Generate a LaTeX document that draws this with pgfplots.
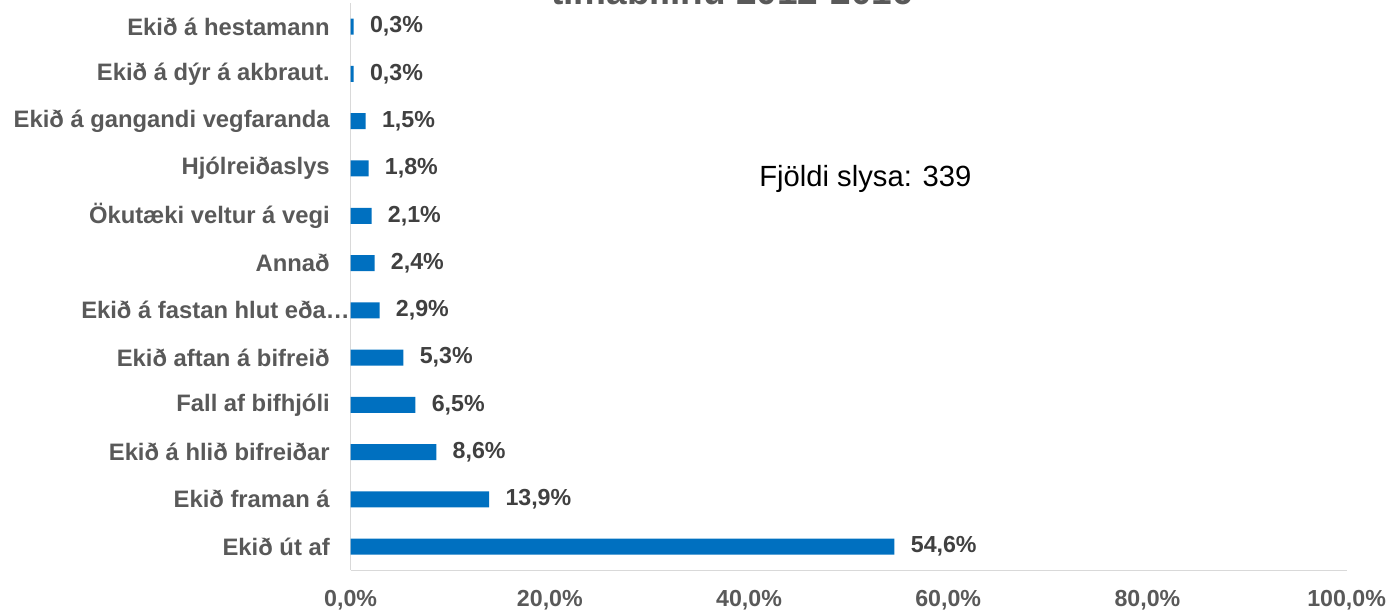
\documentclass[border=0pt]{standalone}
\usepackage{pgfplots}
\pgfplotsset{compat=1.18}
\usepackage{fontspec}
\setmainfont{Liberation Sans}
\definecolor{barblue}{HTML}{0070C0}
\definecolor{labgray}{HTML}{595959}
\definecolor{valgray}{HTML}{404040}
\definecolor{axgray}{HTML}{D9D9D9}
\begin{document}
\begin{tikzpicture}
\begin{axis}[
  x=4.98pt, y=23.635pt,
  xmin=0, xmax=100, ymin=-0.5, ymax=11.5,
  axis lines*=left,
  axis line style={axgray, line width=0.75pt},
  tick style={draw=none},
  clip=false,
  xtick={0,20,40,60,80,100},
  ytick=data,
  yticklabels={Ekið út af, Ekið framan á, Ekið á hlið bifreiðar, Fall af bifhjóli, Ekið aftan á bifreið, {Ekið á fastan hlut eða…\hspace*{-10pt}}, Annað, Ökutæki veltur á vegi, Hjólreiðaslys, Ekið á gangandi vegfaranda, Ekið á dýr á akbraut., Ekið á hestamann},
  /pgf/number format/assume math mode=true,
  /pgf/number format/.cd, use comma, fixed, fixed zerofill, precision=1, /pgfplots/.cd,
  xticklabel={\pgfmathprintnumber{\tick}\%},
  xticklabel style={font=\bfseries\fontsize{11.6}{14}\selectfont, text=labgray, inner sep=0pt, anchor=north, yshift=-10pt},
  yticklabel style={font=\bfseries\fontsize{11.9}{14}\selectfont, text=labgray, inner sep=0pt, anchor=east, xshift=-6pt},
  xbar, bar width=8pt,
  nodes near coords={\pgfmathprintnumber{\pgfplotspointmeta}\%},
  nodes near coords style={font=\bfseries\fontsize{11.6}{14}\selectfont, text=valgray, inner sep=0pt, anchor=west, xshift=8pt},
]
\addplot[fill=barblue, draw=none] coordinates {
(54.6,0) (13.9,1) (8.6,2) (6.5,3) (5.3,4) (2.9,5) (2.4,6) (2.1,7) (1.8,8) (1.5,9) (0.3,10) (0.3,11)
};
\node[anchor=base, inner sep=0pt, font=\bfseries\fontsize{18.5}{22}\selectfont, text=labgray] at (axis cs:38.3,11.47) {tímabilinu 2012-2016};
\node[anchor=base west, inner sep=0pt, font=\fontsize{14.6}{17}\selectfont, text=black] at (axis cs:41.0,7.62) {Fjöldi slysa: 339};
\coordinate (BL) at (axis cs:-35.21,-1.381);
\coordinate (TR) at (axis cs:105.16,11.565);
\end{axis}
\pgfresetboundingbox
\path[use as bounding box] (BL) rectangle (TR);
\end{tikzpicture}
\end{document}
